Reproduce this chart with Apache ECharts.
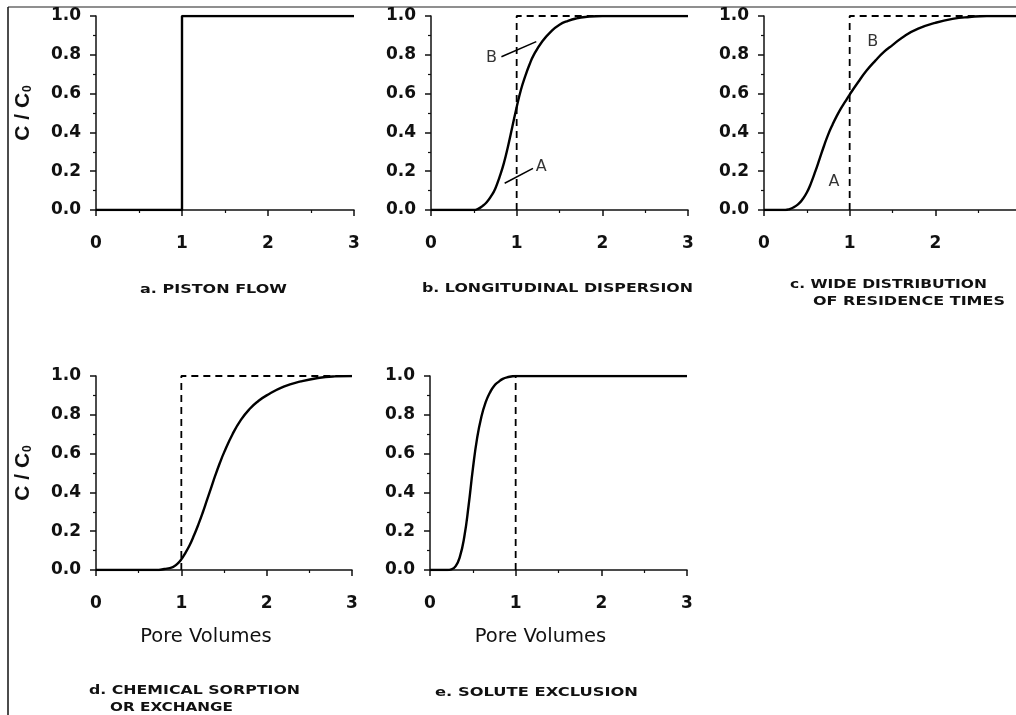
<!DOCTYPE html>
<html>
<head>
<meta charset="utf-8">
<script src="https://cdn.jsdelivr.net/npm/echarts@6/dist/echarts.min.js"></script>
<style>
html,body{margin:0;padding:0;background:#fff;}
#chart{width:1016px;height:715px;}
</style>
</head>
<body>
<div id="chart"></div>
<script>
// ---- data ----
const xTicks = ['0', '1', '2', '3'];
const yTicks = ['0.0', '0.2', '0.4', '0.6', '0.8', '1.0'];
const yName = 'C / C';
const ySub = '0';
const xName = 'Pore Volumes';

// a. piston flow
const pistonFlow = [[0, 0], [1, 0], [1, 1], [3, 1]];
// ideal piston reference (dashed)
const pistonRef = [[1, 0], [1, 1], [3, 1]];
const pistonRefVertical = [[1, 0], [1, 1]];

// b. longitudinal dispersion
const dispersion = [[0, 0], [0.5, 0], [0.55, 0.006], [0.6, 0.02], [0.65, 0.04], [0.7, 0.07], [0.75, 0.11],
  [0.8, 0.17], [0.85, 0.24], [0.9, 0.33], [0.95, 0.43], [1.0, 0.53], [1.05, 0.62], [1.1, 0.69],
  [1.15, 0.75], [1.2, 0.8], [1.3, 0.87], [1.4, 0.92], [1.5, 0.955], [1.6, 0.975], [1.7, 0.988],
  [1.8, 0.995], [2.0, 1], [3, 1]];
const dispTickB = [[0.822, 0.79], [1.229, 0.868]];
const dispTickA = [[0.86, 0.138], [1.19, 0.215]];
const dispLabels = [['B', 0.706, 0.782], ['A', 1.287, 0.223]];

// c. wide distribution of residence times
const wideDist = [[0, 0], [0.25, 0], [0.3, 0.005], [0.35, 0.015], [0.4, 0.03], [0.45, 0.055], [0.5, 0.09],
  [0.55, 0.14], [0.6, 0.2], [0.65, 0.265], [0.7, 0.33], [0.75, 0.39], [0.8, 0.44], [0.85, 0.485],
  [0.9, 0.525], [0.95, 0.56], [1.0, 0.595], [1.1, 0.66], [1.2, 0.72], [1.3, 0.77], [1.4, 0.815],
  [1.5, 0.85], [1.65, 0.9], [1.8, 0.935], [2.0, 0.965], [2.2, 0.985], [2.4, 0.995], [2.6, 1], [3, 1]];
const wideLabels = [['B', 1.27, 0.866], ['A', 0.817, 0.144]];

// d. chemical sorption or exchange
const sorption = [[0, 0], [0.7, 0], [0.8, 0.005], [0.9, 0.015], [0.95, 0.03], [1.0, 0.055], [1.05, 0.09],
  [1.1, 0.13], [1.15, 0.18], [1.2, 0.235], [1.25, 0.295], [1.3, 0.36], [1.35, 0.425], [1.4, 0.49],
  [1.45, 0.55], [1.5, 0.605], [1.6, 0.7], [1.7, 0.775], [1.8, 0.83], [1.9, 0.87], [2.0, 0.9],
  [2.2, 0.945], [2.4, 0.972], [2.6, 0.99], [2.8, 0.998], [3, 1]];

// e. solute exclusion
const exclusion = [[0, 0], [0.2, 0], [0.25, 0.003], [0.3, 0.02], [0.35, 0.07], [0.4, 0.17], [0.45, 0.33],
  [0.5, 0.52], [0.55, 0.68], [0.6, 0.79], [0.65, 0.865], [0.7, 0.915], [0.75, 0.95], [0.8, 0.97],
  [0.85, 0.985], [0.9, 0.993], [1.0, 1], [3, 1]];

const captions = [
  'a. PISTON FLOW',
  'b. LONGITUDINAL DISPERSION',
  'c. WIDE DISTRIBUTION',
  'OF RESIDENCE TIMES',
  'd. CHEMICAL SORPTION',
  'OR EXCHANGE',
  'e. SOLUTE EXCLUSION'
];

// ---- layout / style ----
const FONT = '"DejaVu Sans", "Liberation Sans", Arial, sans-serif';
const INK = '#111';
const grids = [
  { left: 96, top: 16, width: 258, height: 194 },
  { left: 431, top: 16, width: 257, height: 194 },
  { left: 764, top: 16, width: 257, height: 194 },
  { left: 96, top: 376, width: 256, height: 194 },
  { left: 430, top: 376, width: 257, height: 194 }
];

function xAxisFor(i, withName) {
  const ax = {
    type: 'value', gridIndex: i, min: 0, max: 3, interval: 1,
    axisLine: { show: true, onZero: false, lineStyle: { color: INK, width: 1.5 } },
    axisTick: { show: true, length: 6, lineStyle: { color: INK, width: 1.5 } },
    minorTick: { show: true, splitNumber: 2, length: 3, lineStyle: { color: INK, width: 1.2 } },
    splitLine: { show: false },
    axisLabel: {
      margin: 25, fontSize: 17, fontWeight: 'bold', fontFamily: FONT, color: INK,
      formatter: v => xTicks[Math.round(v)]
    }
  };
  if (withName) {
    ax.name = xName;
    ax.nameLocation = 'middle';
    ax.nameGap = 57;
    ax.nameTextStyle = { fontSize: 19.5, fontFamily: FONT, color: INK, padding: [0, 36, 0, 0] };
  }
  return ax;
}
function yAxisFor(i, withName) {
  const ax = {
    type: 'value', gridIndex: i, min: 0, max: 1, interval: 0.2,
    axisLine: { show: true, onZero: false, lineStyle: { color: INK, width: 1.5 } },
    axisTick: { show: true, length: 6, lineStyle: { color: INK, width: 1.5 } },
    minorTick: { show: true, splitNumber: 2, length: 3, lineStyle: { color: INK, width: 1.2 } },
    splitLine: { show: false },
    axisLabel: {
      margin: 15, fontSize: 17, fontWeight: 'bold', fontFamily: FONT, color: INK,
      formatter: v => yTicks[Math.round(v / 0.2)]
    }
  };
  if (withName) {
    ax.name = '{m|' + yName + '}{s|' + ySub + '}';
    ax.nameLocation = 'middle';
    ax.nameRotate = 90;
    ax.nameGap = 62;
    ax.nameTextStyle = {
      rich: {
        m: { fontSize: 21, fontWeight: 'bold', fontFamily: '"Liberation Sans", Arial, sans-serif', color: INK },
        s: { fontSize: 12, fontWeight: 'bold', fontFamily: '"Liberation Sans", Arial, sans-serif', color: INK, padding: [10, 0, 0, 1] }
      }
    };
  }
  return ax;
}

function curve(i, data, dashed) {
  return {
    type: 'line', xAxisIndex: i, yAxisIndex: i, data: data,
    showSymbol: false, symbol: 'none', smooth: dashed ? false : 0.5,
    lineStyle: { color: '#000', width: dashed ? 1.8 : 2.4, type: dashed ? [7, 5] : 'solid' },
    z: dashed ? 2 : 3, silent: true
  };
}
function tick(i, data) {
  return {
    type: 'line', xAxisIndex: i, yAxisIndex: i, data: data, symbol: 'none',
    lineStyle: { color: '#000', width: 1.5 }, silent: true
  };
}
function letters(i, items) {
  return {
    type: 'scatter', xAxisIndex: i, yAxisIndex: i, symbolSize: 1,
    itemStyle: { color: 'rgba(0,0,0,0)' },
    data: items.map(d => ({ name: d[0], value: [d[1], d[2]] })),
    label: { show: true, position: 'inside', formatter: p => p.name, fontSize: 16, fontFamily: FONT, color: '#000' },
    silent: true
  };
}

// captions drawn as text, stretched to the reference's wide spacing
const measureCtx = document.createElement('canvas').getContext('2d');
const CAP_FONT_SIZE = 13;
function caption(text, left, cy, targetWidth) {
  measureCtx.font = 'bold ' + CAP_FONT_SIZE + 'px ' + FONT;
  const w = measureCtx.measureText(text).width || targetWidth;
  return {
    type: 'text', x: left, y: cy, scaleX: targetWidth / w, silent: true,
    style: {
      text: text, fontSize: CAP_FONT_SIZE, fontWeight: 'bold', fontFamily: FONT, fill: INK,
      align: 'left', verticalAlign: 'middle', textAlign: 'left', textVerticalAlign: 'middle'
    }
  };
}
const capPlaces = [
  [140, 290, 147], [422, 289, 271], [790, 285, 197], [813, 302, 192],
  [89, 691, 211], [110, 708, 123], [435, 693, 203]
];

const chart = echarts.init(document.getElementById('chart'), null, { renderer: 'canvas' });
chart.setOption({
  animation: false,
  backgroundColor: '#fff',
  grid: grids.map(g => Object.assign({ containLabel: false, outerBoundsMode: 'none' }, g)),
  xAxis: [xAxisFor(0, false), xAxisFor(1, false), xAxisFor(2, false), xAxisFor(3, true), xAxisFor(4, true)],
  yAxis: [yAxisFor(0, true), yAxisFor(1, false), yAxisFor(2, false), yAxisFor(3, true), yAxisFor(4, false)],
  series: [
    curve(0, pistonFlow, false),
    curve(1, pistonRef, true),
    curve(1, dispersion, false),
    tick(1, dispTickB),
    tick(1, dispTickA),
    letters(1, dispLabels),
    curve(2, pistonRef, true),
    curve(2, wideDist, false),
    letters(2, wideLabels),
    curve(3, pistonRef, true),
    curve(3, sorption, false),
    curve(4, pistonRefVertical, true),
    curve(4, exclusion, false)
  ],
  graphic: [
    { type: 'line', silent: true, shape: { x1: 8, y1: 7, x2: 1016, y2: 7 }, style: { stroke: '#6a6a6a', lineWidth: 1.5 } },
    { type: 'line', silent: true, shape: { x1: 8, y1: 7, x2: 8, y2: 715 }, style: { stroke: '#111', lineWidth: 1.5 } }
  ].concat(captions.map((t, k) => caption(t, capPlaces[k][0], capPlaces[k][1], capPlaces[k][2])))
});
</script>
</body>
</html>
